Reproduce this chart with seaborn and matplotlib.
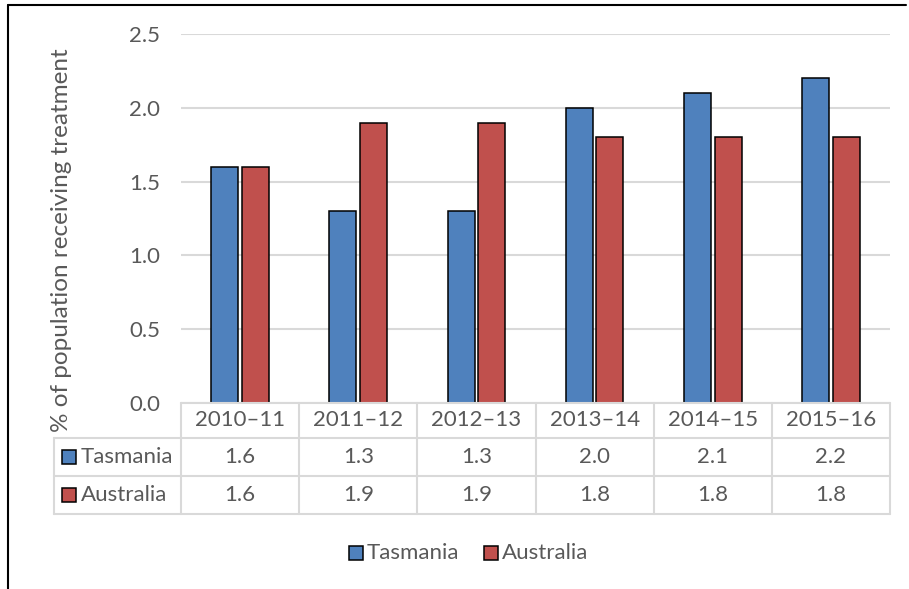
import matplotlib
matplotlib.use("Agg")
import matplotlib.pyplot as plt
from matplotlib.lines import Line2D
from matplotlib.patches import Rectangle
import seaborn as sns
import pandas as pd

# Data
years = ["2010–11", "2011–12", "2012–13", "2013–14", "2014–15", "2015–16"]
tasmania = [1.6, 1.3, 1.3, 2.0, 2.1, 2.2]
australia = [1.6, 1.9, 1.9, 1.8, 1.8, 1.8]
series_names = ["Tasmania", "Australia"]
colors = ["#4F81BD", "#C0504D"]
y_ticks = [0.0, 0.5, 1.0, 1.5, 2.0, 2.5]

df = pd.DataFrame({
    "year": years * 2,
    "value": tasmania + australia,
    "series": [series_names[0]] * len(years) + [series_names[1]] * len(years),
})

sns.set_theme(style="white")
plt.rcParams["font.family"] = ["Lato", "DejaVu Sans"]

W, H = 909, 589
fig = plt.figure(figsize=(W / 100, H / 100), dpi=100)
TXT = "#595959"
GRID = "#D9D9D9"
FS = 16

x0, x1, ytop, ybot = 181, 890, 34, 403
ax = fig.add_axes([x0 / W, 1 - ybot / H, (x1 - x0) / W, (ybot - ytop) / H])

sns.barplot(data=df, x="year", y="value", hue="series", palette=colors,
            order=years, hue_order=series_names, width=0.52, gap=0.12,
            saturation=1, edgecolor="black", linewidth=1.1, legend=False,
            ax=ax, zorder=3)

ax.set_ylim(0, 2.5)
ax.set_xlim(-0.5, len(years) - 0.5)
ax.set_yticks(y_ticks)
ax.set_yticklabels([f"{t:.1f}" for t in y_ticks], fontsize=FS, color=TXT)
ax.tick_params(axis="y", length=0, pad=15)
ax.set_xticks([])
ax.set_xlabel("")
ax.set_ylabel("")
for s in ax.spines.values():
    s.set_visible(False)
ax.yaxis.grid(True, color=GRID, linewidth=1.5, zorder=0)
ax.set_axisbelow(True)

# Y axis title
fig.text(62 / W, 1 - 240 / H, "% of population receiving treatment",
         rotation=90, ha="center", va="center", fontsize=17.5, color=TXT)


def fy(py):
    return 1 - py / H


def fx(px):
    return px / W


# Data table below the plot
rows_y = [403, 438, 476, 514]
col_x = [x0 + i * (x1 - x0) / len(years) for i in range(len(years) + 1)]
lbl_left = 54
for py in rows_y:
    left = x0 if py == 403 else lbl_left
    fig.add_artist(Line2D([fx(left), fx(x1)], [fy(py), fy(py)], color=GRID, lw=1.5))
for px in col_x:
    fig.add_artist(Line2D([fx(px), fx(px)], [fy(403), fy(514)], color=GRID, lw=1.5))
fig.add_artist(Line2D([fx(lbl_left), fx(lbl_left)], [fy(438), fy(514)], color=GRID, lw=1.5))

for i, yr in enumerate(years):
    cx = (col_x[i] + col_x[i + 1]) / 2
    fig.text(fx(cx), fy((403 + 438) / 2), yr, ha="center", va="center", fontsize=FS, color=TXT)
    fig.text(fx(cx), fy((438 + 476) / 2), f"{tasmania[i]:.1f}", ha="center", va="center", fontsize=FS, color=TXT)
    fig.text(fx(cx), fy((476 + 514) / 2), f"{australia[i]:.1f}", ha="center", va="center", fontsize=FS, color=TXT)

for j, (name, c) in enumerate(zip(series_names, colors)):
    cy = (rows_y[j + 1] + rows_y[j + 2]) / 2
    fig.add_artist(Rectangle((fx(62), fy(cy + 7)), 14 / W, 14 / H, facecolor=c,
                             edgecolor="black", lw=1.1, transform=fig.transFigure))
    fig.text(fx(81), fy(cy), name, ha="left", va="center", fontsize=FS, color=TXT)

# Legend below the table
leg_y = 553
for name, c, kx in zip(series_names, colors, [349, 484]):
    fig.add_artist(Rectangle((fx(kx), fy(leg_y + 7)), 14 / W, 14 / H, facecolor=c,
                             edgecolor="black", lw=1.1, transform=fig.transFigure))
    fig.text(fx(kx + 18), fy(leg_y), name, ha="left", va="center", fontsize=FS, color=TXT)

# Outer frame
fig.add_artist(Line2D([fx(8), fx(906)], [fy(5), fy(5)], color="black", lw=1.5))
fig.add_artist(Line2D([fx(8), fx(8)], [fy(5), 0], color="black", lw=1.5))

fig.savefig("out.png", dpi=100)
